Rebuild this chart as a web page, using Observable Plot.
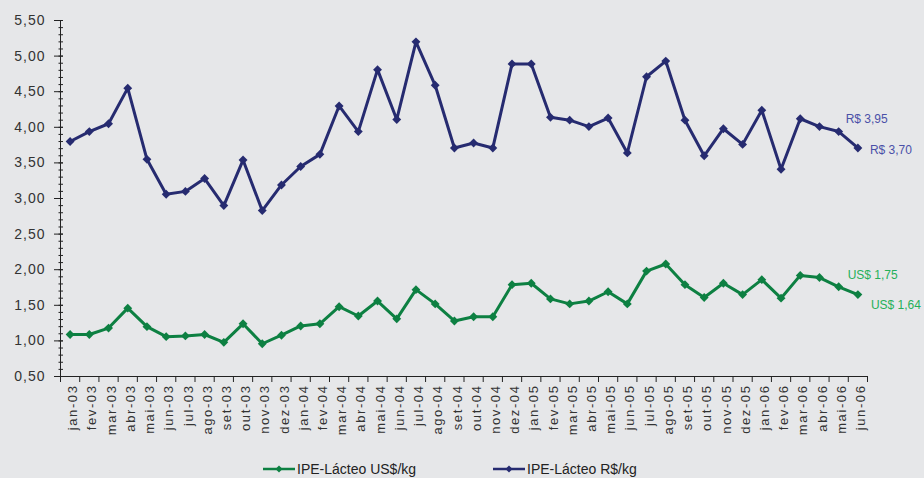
<!DOCTYPE html>
<html>
<head>
<meta charset="utf-8">
<script src="https://cdn.jsdelivr.net/npm/d3@7"></script>
<script src="https://cdn.jsdelivr.net/npm/@observablehq/plot@0.6"></script>
<style>
  html, body { margin: 0; padding: 0; background: #E6E7E9; }
  #wrap { width: 924px; height: 478px; position: relative; background: #E6E7E9; font-family: "Liberation Sans", Arial, sans-serif; }
  #chart svg { display: block; }
  g[aria-label="y-axis tick label"] text { letter-spacing: 1px; }
  g[aria-label="x-axis tick label"] text { letter-spacing: 1.6px; }
  #legend { position: relative; width: 924px; height: 28px; font-size: 14px; color: #222; }
  .li { position: absolute; top: 10px; height: 18px; display: flex; align-items: center; white-space: nowrap; }
  .li svg { margin-right: 2px; }
</style>
</head>
<body>
<div id="wrap">
  <div id="chart"></div>
  <div id="legend"></div>
</div>
<script>
// ---- data ----
const months = ["jan-03","fev-03","mar-03","abr-03","mai-03","jun-03","jul-03","ago-03","set-03","out-03","nov-03","dez-03",
                "jan-04","fev-04","mar-04","abr-04","mai-04","jun-04","jul-04","ago-04","set-04","out-04","nov-04","dez-04",
                "jan-05","fev-05","mar-05","abr-05","mai-05","jun-05","jul-05","ago-05","set-05","out-05","nov-05","dez-05",
                "jan-06","fev-06","mar-06","abr-06","mai-06","jun-06"];
const ipeUSD = [1.09,1.09,1.18,1.46,1.20,1.06,1.07,1.09,0.98,1.24,0.96,1.08,
                1.21,1.24,1.48,1.35,1.56,1.31,1.72,1.52,1.28,1.34,1.34,1.79,
                1.81,1.59,1.52,1.56,1.69,1.52,1.98,2.08,1.79,1.61,1.81,1.65,
                1.86,1.60,1.92,1.89,1.76,1.65];
const ipeBRL = [3.80,3.94,4.05,4.55,3.55,3.06,3.10,3.28,2.90,3.54,2.83,3.19,
                3.45,3.62,4.30,3.94,4.81,4.11,5.20,4.59,3.71,3.78,3.71,4.89,
                4.89,4.14,4.10,4.01,4.13,3.64,4.71,4.93,4.10,3.60,3.98,3.76,
                4.24,3.41,4.12,4.01,3.94,3.71];
const yTickValues = [0.5,1.0,1.5,2.0,2.5,3.0,3.5,4.0,4.5,5.0,5.5];
const yTickLabels = ["0,50","1,00","1,50","2,00","2,50","3,00","3,50","4,00","4,50","5,00","5,50"];
const seriesNames = ["IPE-Lácteo US$/kg","IPE-Lácteo R$/kg"];
const usdLabels = ["US$ 1,75","US$ 1,64"];
const brlLabels = ["R$ 3,95","R$ 3,70"];

// ---- styles ----
const navy = "#262B70";
const green = "#0D8042";
const navyText = "#4A50A8";
const greenText = "#25B05A";
const axisColor = "#222";

const rows = months.map((m, i) => ({m, i, usd: ipeUSD[i], brl: ipeBRL[i]}));
const X = d => d.i + 0.5;
const n = rows.length;

const plot = Plot.plot({
  width: 924,
  height: 450,
  marginLeft: 60,
  marginRight: 57,
  marginTop: 20,
  marginBottom: 74,
  style: {background: "#E6E7E9", fontFamily: "'Liberation Sans', Arial, sans-serif", fontSize: "14px", color: "#333", overflow: "visible"},
  x: {domain: [0, n]},
  y: {domain: [yTickValues[0], yTickValues[yTickValues.length - 1]]},
  marks: [
    // y axis: minor ticks, major ticks, labels
    Plot.axisY({ticks: 50, tickSize: 4.5, dx: 3, tickFormat: () => "", stroke: axisColor}),
    Plot.axisY({ticks: yTickValues, tickSize: 9, dx: 3, tickFormat: () => "", stroke: axisColor}),
    Plot.axisY({ticks: yTickValues, tickSize: 0, tickPadding: 15, fontSize: 14, fill: "#333",
                tickFormat: d => yTickLabels[yTickValues.indexOf(d)]}),
    // x axis: boundary ticks and rotated labels
    Plot.axisX({ticks: n, tickSize: 6, tickFormat: () => "", stroke: axisColor}),
    Plot.axisX({ticks: rows.map(X), tickSize: 0, tickPadding: 8, tickRotate: -90, dx: 3, fontSize: 13, fill: "#333",
                tickFormat: d => months[Math.floor(d)]}),
    Plot.ruleX([0], {stroke: axisColor}),
    Plot.ruleY([yTickValues[0]], {stroke: axisColor}),
    // series
    Plot.line(rows, {x: X, y: "brl", stroke: navy, strokeWidth: 3}),
    Plot.dot(rows, {x: X, y: "brl", symbol: "diamond2", fill: navy, stroke: "none", r: 4}),
    Plot.line(rows, {x: X, y: "usd", stroke: green, strokeWidth: 3}),
    Plot.dot(rows, {x: X, y: "usd", symbol: "diamond2", fill: green, stroke: "none", r: 4}),
    // annotations
    Plot.text([rows[n - 2]], {x: X, y: "brl", text: () => brlLabels[0], textAnchor: "start", dx: 7, dy: -12, fill: navyText, fontSize: 12}),
    Plot.text([rows[n - 1]], {x: X, y: "brl", text: () => brlLabels[1], textAnchor: "start", dx: 12, dy: 2, fill: navyText, fontSize: 12}),
    Plot.text([rows[n - 2]], {x: X, y: "usd", text: () => usdLabels[0], textAnchor: "start", dx: 9, dy: -12, fill: greenText, fontSize: 12}),
    Plot.text([rows[n - 1]], {x: X, y: "usd", text: () => usdLabels[1], textAnchor: "start", dx: 13, dy: 11, fill: greenText, fontSize: 12})
  ]
});
document.getElementById("chart").appendChild(plot);

// ---- legend ----
const legend = document.getElementById("legend");
const items = [{name: seriesNames[0], color: green, left: 263}, {name: seriesNames[1], color: navy, left: 493}];
items.forEach(it => {
  const div = document.createElement("div");
  div.className = "li";
  div.style.left = it.left + "px";
  div.innerHTML = `<svg width="32" height="10"><line x1="0" y1="5" x2="32" y2="5" stroke="${it.color}" stroke-width="2.5"/><path d="M16,1.5L19.5,5L16,8.5L12.5,5Z" fill="${it.color}"/></svg><span>${it.name}</span>`;
  legend.appendChild(div);
});
</script>
</body>
</html>
